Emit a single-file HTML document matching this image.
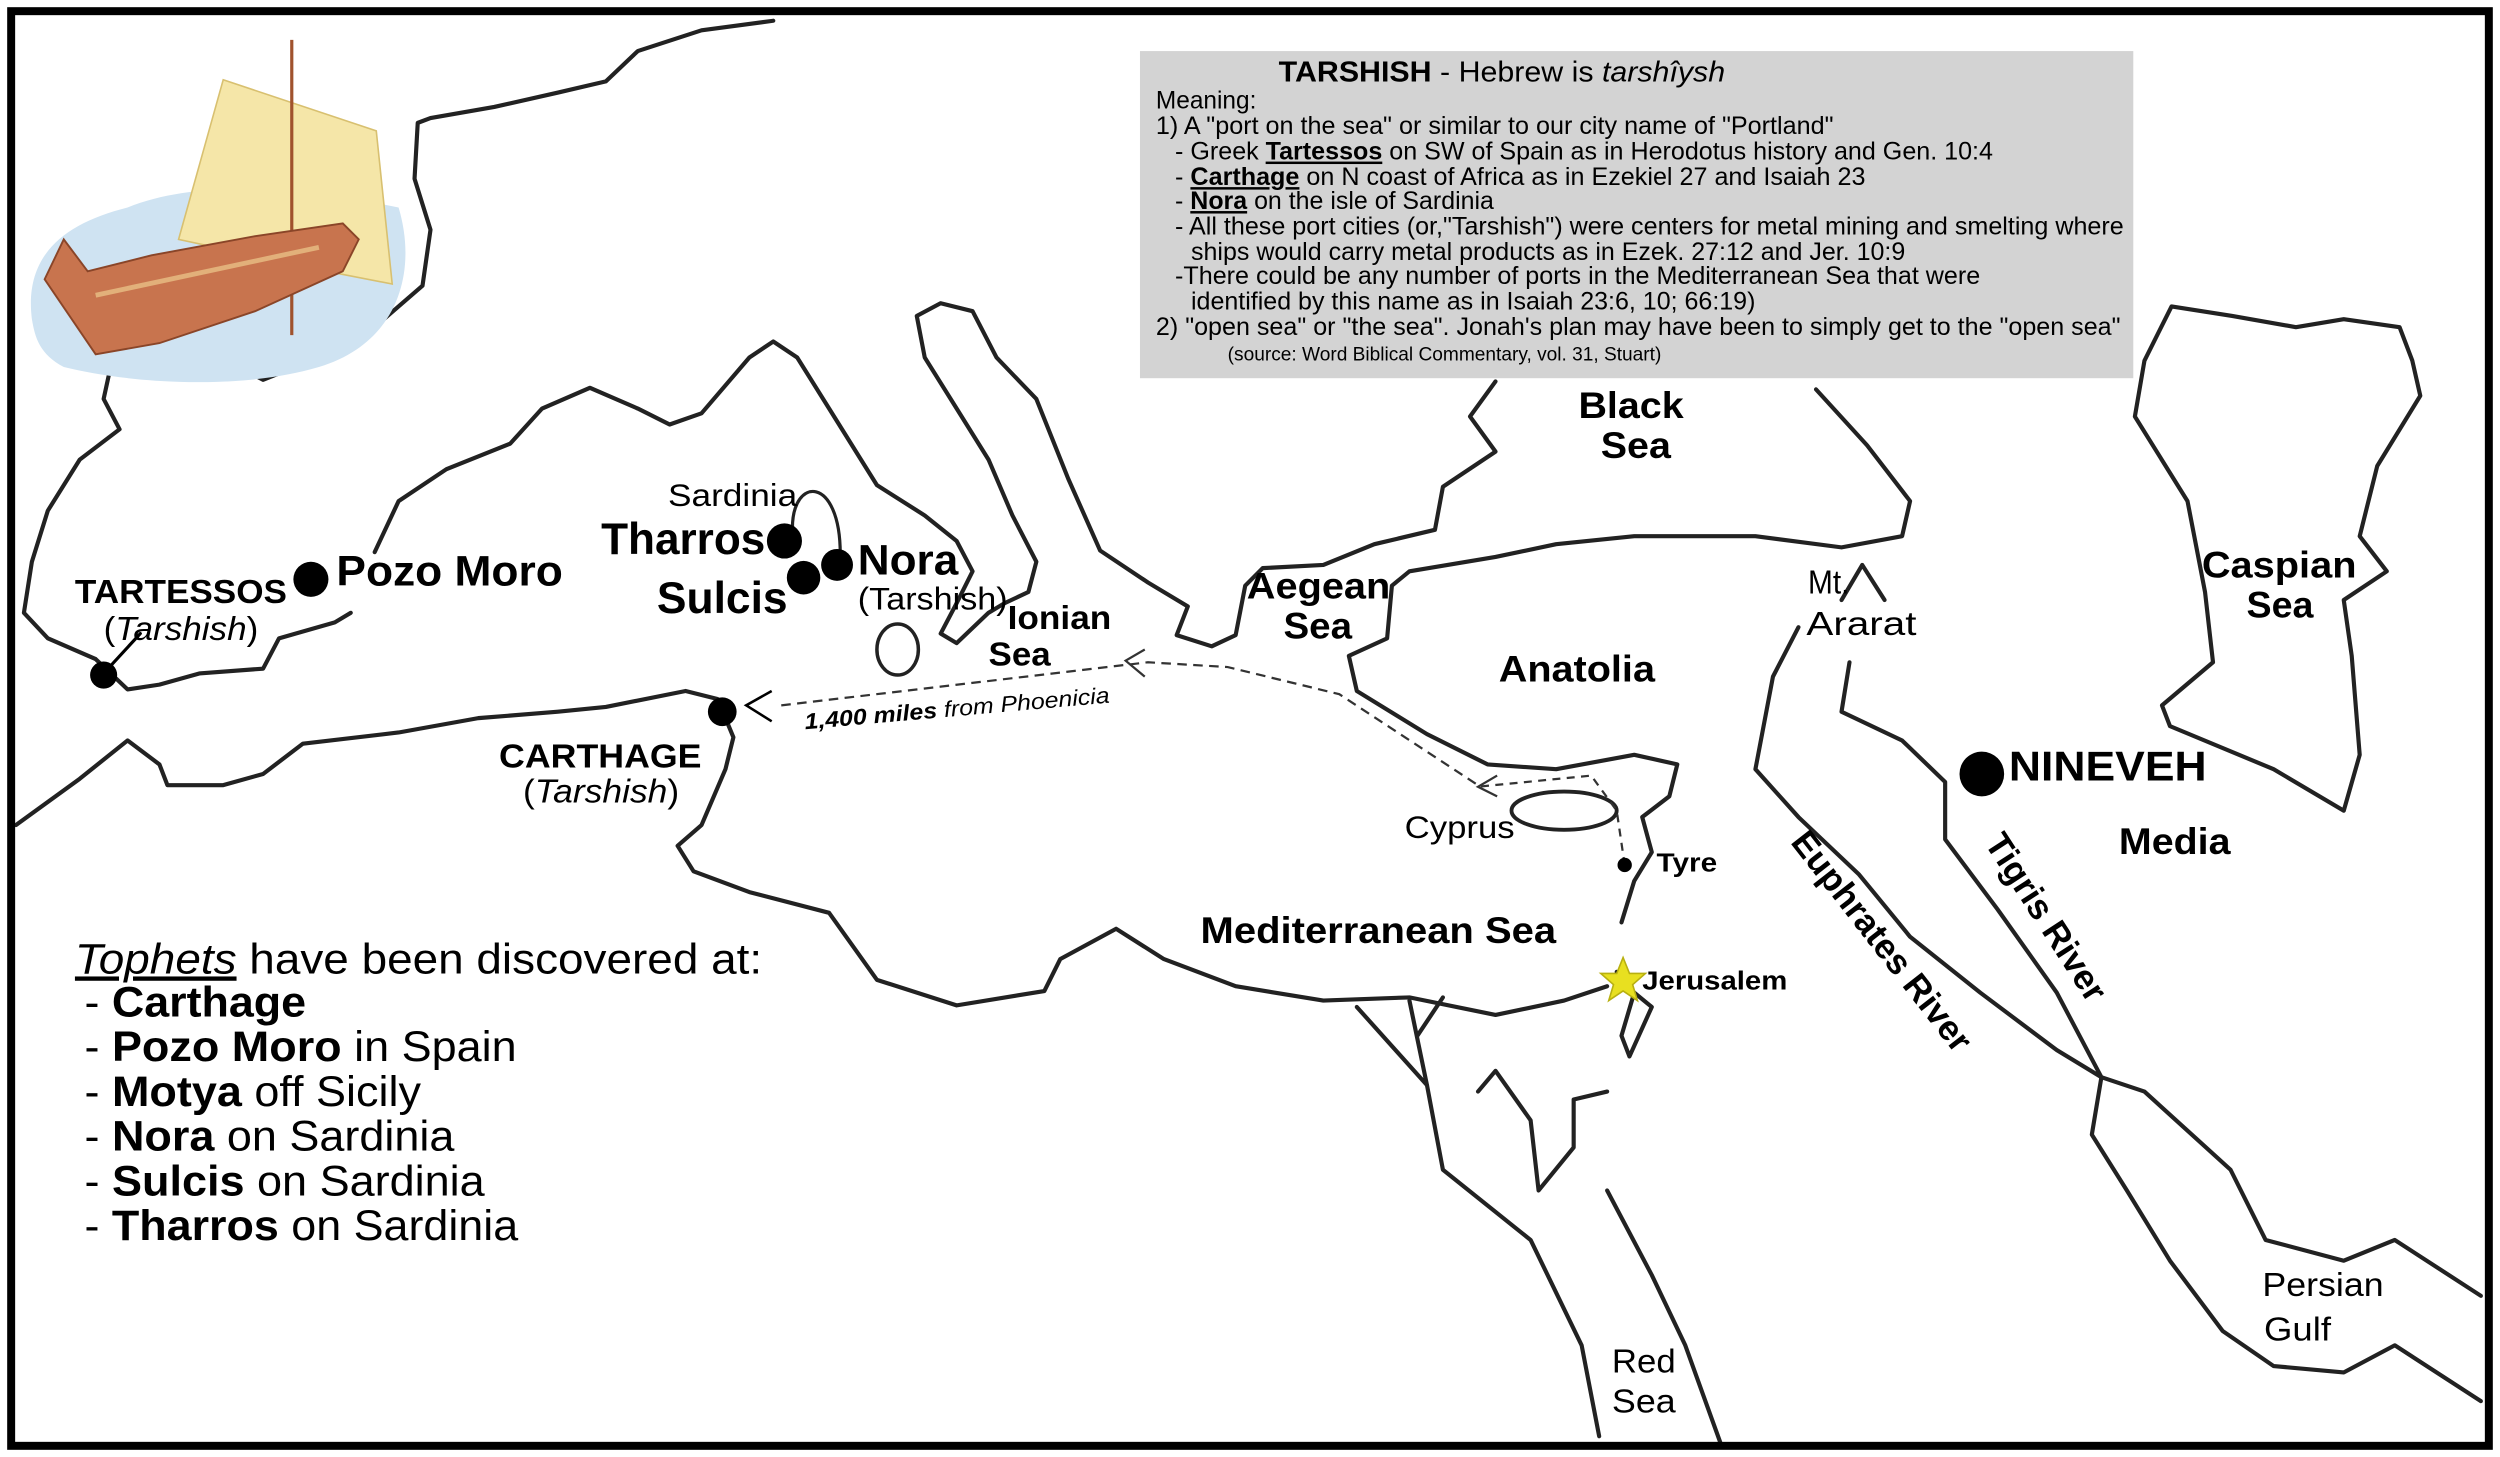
<!DOCTYPE html>
<html><head><meta charset="utf-8"><style>
html,body{margin:0;padding:0;background:#fff}
svg{display:block}
text{font-family:"Liberation Sans Narrow","Liberation Sans",sans-serif;fill:#000}
.b{font-weight:bold}
</style></head><body>
<svg width="2500" height="1457" viewBox="0 0 1568 913" preserveAspectRatio="none" xmlns="http://www.w3.org/2000/svg">
<rect x="0" y="0" width="1568" height="913" fill="#fff"/>
<g fill="none" stroke="#222" stroke-width="2.6" stroke-linejoin="round" stroke-linecap="round">
<!-- Europe north coast / Spain -->
<path d="M485,13 L440,19 L400,32 L380,51 L350,58 L310,67 L270,74 L262,77 L260,112 L270,144 L265,179 L235,205 L200,224 L165,238 L150,230 L100,224 L70,227 L65,250 L75,269 L50,288 L30,320 L20,352 L15,384 L30,400 L60,413 L80,432 L100,429 L125,422 L165,419 L175,400 L210,390 L220,384"/>
<path d="M235,346 L250,314 L280,294 L320,278 L340,256 L370,243 L400,256 L420,266 L440,259 L470,224 L485,214 L500,224 L520,256 L540,288 L550,304 L580,323 L600,339 L610,358 L600,378 L590,397 L600,403 L620,384 L630,378 L645,371 L650,352 L635,323 L620,288 L600,256 L580,224 L575,198 L590,190 L610,195 L625,224 L650,250 L670,300 L690,345 L720,365 L745,380 L738,398 L760,405 L775,398 L781,367 L792,356 L830,354 L862,341 L900,332 L905,305 L938,283 L922,261 L938,239"/>
<!-- Anatolia / Levant -->
<path d="M1139,244 L1171,279 L1198,314 L1193,336 L1155,343 L1101,336 L1025,336 L976,341 L938,349 L884,358 L873,367 L870,400 L846,411 L851,433 L895,460 L933,479 L976,482 L1025,473 L1052,479 L1047,499 L1030,512 L1036,534 L1025,552 L1017,578"/>
<path d="M1014,609 L1025,622 L1017,649 L1022,662 L1036,631 L1025,622"/>
<!-- North Africa / Med south shore -->
<path d="M10,517 L50,488 L80,464 L100,479 L105,492 L140,492 L165,485 L190,466 L250,459 L300,450 L350,446 L380,443 L430,433 L450,438 L460,462 L455,482 L440,517 L425,530 L435,546 L470,559 L520,572 L550,614 L600,630 L655,621 L665,601 L700,582 L730,601 L775,618 L830,627 L884,625 L938,636 L981,627 L1008,618"/>
<!-- Nile -->
<path d="M851,631 L895,680 M884,627 L895,680 M905,625 L889,649"/>
<!-- Red Sea / Sinai -->
<path d="M895,680 L905,733 L960,777 L992,843 L1003,900"/>
<path d="M927,684 L938,671 L960,702 L965,746 L987,719 L987,689 L1008,684"/>
<path d="M1008,746 L1036,799 L1057,843 L1079,904"/>
<!-- Euphrates / Tigris / Gulf -->
<path d="M1128,393 L1112,424 L1101,482 L1128,512 L1166,548 L1198,587 L1242,622 L1290,658 L1318,675"/>
<path d="M1160,415 L1155,446 L1193,464 L1220,490 L1220,526 L1253,570 L1290,622 L1318,675"/>
<path d="M1318,675 L1312,711 L1334,746 L1361,790 L1394,834 L1426,856 L1470,860 L1502,843 L1556,878"/>
<path d="M1318,675 L1345,684 L1399,733 L1421,777 L1470,790 L1502,777 L1556,812"/>
<!-- Caspian -->
<path d="M1345,226 L1339,261 L1372,314 L1383,371 L1388,415 L1356,442 L1361,455 L1426,482 L1470,508 L1480,473 L1475,411 L1470,376 L1497,358 L1480,336 L1491,292 L1518,248 L1513,226 L1505,205 L1470,200 L1440,205 L1400,198 L1362,192 L1345,226"/>
<!-- Ararat -->
<path d="M1155,376 L1168,354 L1182,376"/>
<!-- Sardinia loop -->
<path d="M497,331 C497,298 527,298 527,347" stroke-width="2"/>
<!-- Cyprus, Sicily -->
<ellipse cx="981" cy="508" rx="33" ry="12" stroke-width="2.4"/>
<ellipse cx="563" cy="407" rx="13" ry="16" stroke-width="2.2"/>
<!-- Tartessos pointer -->
<path d="M65,422 L88,397" stroke="#000" stroke-width="2"/>
</g>
<!-- dashed route -->
<g fill="none" stroke="#333" stroke-width="1.4">
<path d="M490,442 L720,415 L770,418 L840,435 L927,492" stroke-dasharray="6,4"/>
<path d="M1019,542 L1014,508 L998,486 L927,493" stroke-dasharray="5,4"/>
<path d="M484,433 L468,442 L484,452" stroke="#000" stroke-width="1.6"/>
<path d="M718,407 L706,414 L718,424"/>
<path d="M939,486 L927,493 L939,499"/>
</g>
<!-- ship -->
<g>
<path d="M20,200 C15,160 40,140 80,130 C130,110 200,120 250,130 C262,170 250,215 200,230 C150,245 80,240 40,230 C25,222 22,212 20,200 Z" fill="#cfe3f2"/>
<path d="M140,50 L236,82 L246,178 L205,170 L112,150 Z" fill="#f5e6a8" stroke="#d8c070" stroke-width="1"/>
<line x1="183" y1="25" x2="183" y2="210" stroke="#a0522d" stroke-width="2"/>
<path d="M28,175 L40,150 L55,170 L95,160 L160,148 L215,140 L225,150 L215,170 L160,195 L100,215 L60,222 Z" fill="#c8744e" stroke="#8a4528" stroke-width="1.2"/>
<path d="M60,185 L200,155" stroke="#e2b07a" stroke-width="3"/>
</g>
<!-- dots -->
<g fill="#000">
<circle cx="65" cy="423" r="8.5"/>
<circle cx="195" cy="363" r="11"/>
<circle cx="492" cy="339" r="11"/>
<circle cx="504" cy="362" r="10.5"/>
<circle cx="525" cy="354" r="10"/>
<circle cx="453" cy="446" r="9"/>
<circle cx="1019" cy="542" r="4.5"/>
<circle cx="1243" cy="485" r="14"/>
</g>
<polygon points="1018,600 1022,610 1032,610 1024,617 1027,627 1018,621 1009,627 1012,617 1004,610 1014,610" fill="#e8e020" stroke="#b8b010" stroke-width="1"/>
<!-- info box -->
<rect x="715" y="32" width="623" height="205" fill="#d3d3d3"/>
<g font-size="15.5">
<text x="802" y="51" font-size="18" textLength="280" lengthAdjust="spacingAndGlyphs"><tspan class="b">TARSHISH</tspan> - Hebrew is <tspan font-style="italic">tarshîysh</tspan></text>
<text x="725" y="68" textLength="63" lengthAdjust="spacingAndGlyphs">Meaning:</text>
<text x="725" y="84" textLength="425" lengthAdjust="spacingAndGlyphs">1) A "port on the sea" or similar to our city name of "Portland"</text>
<text x="737" y="100" textLength="513" lengthAdjust="spacingAndGlyphs">- Greek <tspan class="b" text-decoration="underline">Tartessos</tspan> on SW of Spain as in Herodotus history and Gen. 10:4</text>
<text x="737" y="116" textLength="433" lengthAdjust="spacingAndGlyphs">- <tspan class="b" text-decoration="underline">Carthage</tspan> on N coast of Africa as in Ezekiel 27 and Isaiah 23</text>
<text x="737" y="131" textLength="200" lengthAdjust="spacingAndGlyphs">- <tspan class="b" text-decoration="underline">Nora</tspan> on the isle of Sardinia</text>
<text x="737" y="147" textLength="595" lengthAdjust="spacingAndGlyphs">- All these port cities (or,"Tarshish") were centers for metal mining and smelting where</text>
<text x="747" y="163" textLength="448" lengthAdjust="spacingAndGlyphs">ships would carry metal products as in Ezek. 27:12 and Jer. 10:9</text>
<text x="737" y="178" textLength="505" lengthAdjust="spacingAndGlyphs">-There could be any number of ports in the Mediterranean Sea that were</text>
<text x="747" y="194" textLength="354" lengthAdjust="spacingAndGlyphs">identified by this name as in Isaiah 23:6, 10; 66:19)</text>
<text x="725" y="210" textLength="605" lengthAdjust="spacingAndGlyphs">2) "open sea" or "the sea". Jonah's plan may have been to simply get to the "open sea"</text>
<text x="770" y="226" font-size="12" textLength="272" lengthAdjust="spacingAndGlyphs">(source: Word Biblical Commentary, vol. 31, Stuart)</text>
</g>
<!-- left labels -->
<text x="47" y="378" class="b" font-size="21" textLength="133" lengthAdjust="spacingAndGlyphs">TARTESSOS</text>
<text x="65" y="401" font-size="21" textLength="97" lengthAdjust="spacingAndGlyphs">(<tspan font-style="italic">Tarshish</tspan>)</text>
<text x="211" y="367" class="b" font-size="27" textLength="142" lengthAdjust="spacingAndGlyphs">Pozo Moro</text>
<text x="419" y="317" font-size="20" textLength="81" lengthAdjust="spacingAndGlyphs">Sardinia</text>
<text x="377" y="347" class="b" font-size="28" textLength="103" lengthAdjust="spacingAndGlyphs">Tharros</text>
<text x="412" y="384" class="b" font-size="28" textLength="82" lengthAdjust="spacingAndGlyphs">Sulcis</text>
<text x="538" y="360" class="b" font-size="27" textLength="63" lengthAdjust="spacingAndGlyphs">Nora</text>
<text x="538" y="382" font-size="20" textLength="94" lengthAdjust="spacingAndGlyphs">(Tarshish)</text>
<text x="632" y="394" class="b" font-size="21" textLength="65" lengthAdjust="spacingAndGlyphs">Ionian</text>
<text x="620" y="417" class="b" font-size="21" textLength="39" lengthAdjust="spacingAndGlyphs">Sea</text>
<text x="313" y="481" class="b" font-size="21" textLength="127" lengthAdjust="spacingAndGlyphs">CARTHAGE</text>
<text x="328" y="503" font-size="21" textLength="98" lengthAdjust="spacingAndGlyphs">(<tspan font-style="italic">Tarshish</tspan>)</text>
<text x="505" y="457" font-size="14" transform="rotate(-5 505 457)" textLength="192" lengthAdjust="spacingAndGlyphs"><tspan class="b" font-style="italic">1,400 miles</tspan> <tspan font-style="italic">from Phoenicia</tspan></text>
<!-- Tophets -->
<g font-size="27">
<text x="47" y="610" textLength="431" lengthAdjust="spacingAndGlyphs"><tspan font-style="italic" text-decoration="underline">Tophets</tspan> have been discovered at:</text>
<text x="53" y="637" textLength="139" lengthAdjust="spacingAndGlyphs">- <tspan class="b">Carthage</tspan></text>
<text x="53" y="665" textLength="271" lengthAdjust="spacingAndGlyphs">- <tspan class="b">Pozo Moro</tspan> in Spain</text>
<text x="53" y="693" textLength="211" lengthAdjust="spacingAndGlyphs">- <tspan class="b">Motya</tspan> off Sicily</text>
<text x="53" y="721" textLength="232" lengthAdjust="spacingAndGlyphs">- <tspan class="b">Nora</tspan> on Sardinia</text>
<text x="53" y="749" textLength="251" lengthAdjust="spacingAndGlyphs">- <tspan class="b">Sulcis</tspan> on Sardinia</text>
<text x="53" y="777" textLength="272" lengthAdjust="spacingAndGlyphs">- <tspan class="b">Tharros</tspan> on Sardinia</text>
</g>
<!-- east labels -->
<text x="990" y="262" class="b" font-size="23" textLength="66" lengthAdjust="spacingAndGlyphs">Black</text>
<text x="1004" y="287" class="b" font-size="23" textLength="44" lengthAdjust="spacingAndGlyphs">Sea</text>
<text x="782" y="375" class="b" font-size="23" textLength="90" lengthAdjust="spacingAndGlyphs">Aegean</text>
<text x="805" y="400" class="b" font-size="23" textLength="43" lengthAdjust="spacingAndGlyphs">Sea</text>
<text x="940" y="427" class="b" font-size="23" textLength="98" lengthAdjust="spacingAndGlyphs">Anatolia</text>
<text x="1134" y="372" font-size="21" textLength="26" lengthAdjust="spacingAndGlyphs">Mt.</text>
<text x="1133" y="398" font-size="21" textLength="69" lengthAdjust="spacingAndGlyphs">Ararat</text>
<text x="1381" y="362" class="b" font-size="23" textLength="97" lengthAdjust="spacingAndGlyphs">Caspian</text>
<text x="1409" y="387" class="b" font-size="23" textLength="42" lengthAdjust="spacingAndGlyphs">Sea</text>
<text x="1260" y="489" class="b" font-size="26" textLength="124" lengthAdjust="spacingAndGlyphs">NINEVEH</text>
<text x="1329" y="535" class="b" font-size="23" textLength="70" lengthAdjust="spacingAndGlyphs">Media</text>
<text x="881" y="525" font-size="20" textLength="69" lengthAdjust="spacingAndGlyphs">Cyprus</text>
<text x="1039" y="546" class="b" font-size="16" textLength="38" lengthAdjust="spacingAndGlyphs">Tyre</text>
<text x="753" y="591" class="b" font-size="23" textLength="223" lengthAdjust="spacingAndGlyphs">Mediterranean Sea</text>
<text x="1030" y="620" class="b" font-size="16" textLength="91" lengthAdjust="spacingAndGlyphs">Jerusalem</text>
<text x="1180" y="597" class="b" font-size="22" text-anchor="middle" transform="rotate(52 1180 590)">Euphrates River</text>
<text x="1283" y="582" class="b" font-size="22" text-anchor="middle" transform="rotate(57 1283 575)">Tigris River</text>
<text x="1419" y="812" font-size="21" textLength="76" lengthAdjust="spacingAndGlyphs">Persian</text>
<text x="1420" y="840" font-size="21" textLength="42" lengthAdjust="spacingAndGlyphs">Gulf</text>
<text x="1011" y="860" font-size="21" textLength="40" lengthAdjust="spacingAndGlyphs">Red</text>
<text x="1011" y="885" font-size="21" textLength="40" lengthAdjust="spacingAndGlyphs">Sea</text>
<!-- frame -->
<rect x="7" y="7" width="1554" height="899" fill="none" stroke="#000" stroke-width="5"/>
</svg>
</body></html>
